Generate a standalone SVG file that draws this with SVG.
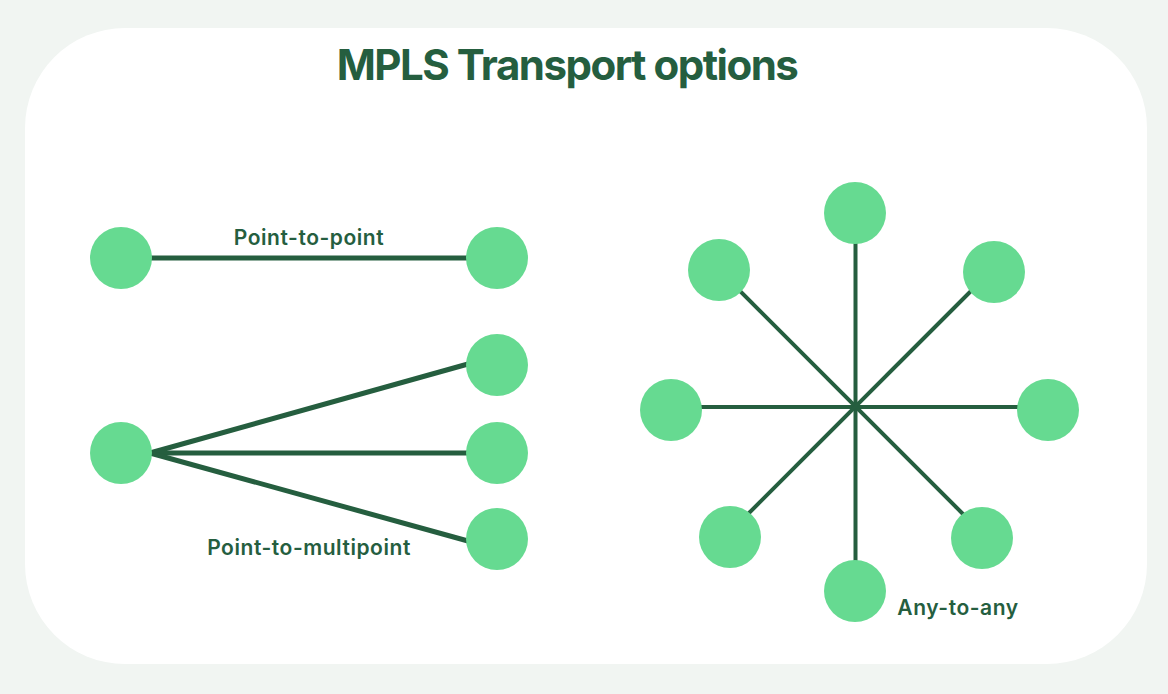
<svg xmlns="http://www.w3.org/2000/svg" width="1168" height="694" viewBox="0 0 1168 694">
<style>
.node{fill:#66DA91}
.ln{stroke:#255E3F;stroke-width:5;fill:none}
.st{stroke:#255E3F;stroke-width:4;fill:none}
.lbl{font-family:Inter,"Noto Sans",sans-serif;font-weight:600;font-size:21px;letter-spacing:0.55px;fill:#255E3F}
.title{font-family:Inter,"Noto Sans",sans-serif;font-weight:700;font-size:42px;letter-spacing:-1.5px;fill:#255E3F}
</style>
<rect x="0" y="0" width="1168" height="694" fill="#F1F5F2"/>
<rect x="25" y="28" width="1122" height="636" rx="100" ry="100" fill="#FFFFFF"/>
<text class="title" x="567" y="80" text-anchor="middle">MPLS Transport options</text>
<g id="connectors">
<line class="ln" x1="121" y1="258" x2="497" y2="258"/>
<line class="ln" x1="150" y1="453" x2="468" y2="364"/>
<line class="ln" x1="150" y1="453" x2="497" y2="453"/>
<line class="ln" x1="150" y1="453" x2="468" y2="541"/>
<line class="st" x1="855.5" y1="214" x2="855.5" y2="591"/>
<line class="st" x1="671" y1="407" x2="1048" y2="407"/>
<line class="st" x1="719" y1="270" x2="982" y2="533"/>
<line class="st" x1="994" y1="268" x2="730" y2="532"/>
</g>
<g id="p2p-a"><circle class="node" cx="121" cy="258" r="31"/></g>
<g id="p2p-b"><circle class="node" cx="497" cy="258" r="31"/></g>
<g id="p2mp-src"><circle class="node" cx="121" cy="453" r="31"/></g>
<g id="p2mp-1"><circle class="node" cx="497" cy="365" r="31"/></g>
<g id="p2mp-2"><circle class="node" cx="497" cy="453" r="31"/></g>
<g id="p2mp-3"><circle class="node" cx="497" cy="539" r="31"/></g>
<g id="a2a-n"><circle class="node" cx="855" cy="213" r="31"/></g>
<g id="a2a-nw"><circle class="node" cx="719" cy="270" r="31"/></g>
<g id="a2a-ne"><circle class="node" cx="994" cy="272" r="31"/></g>
<g id="a2a-w"><circle class="node" cx="671" cy="410" r="31"/></g>
<g id="a2a-e"><circle class="node" cx="1048" cy="410" r="31"/></g>
<g id="a2a-sw"><circle class="node" cx="730" cy="537" r="31"/></g>
<g id="a2a-se"><circle class="node" cx="982" cy="538" r="31"/></g>
<g id="a2a-s"><circle class="node" cx="855" cy="591" r="31"/></g>
<text class="lbl" x="309" y="245" text-anchor="middle">Point-to-point</text>
<text class="lbl" x="309" y="555" text-anchor="middle">Point-to-multipoint</text>
<text class="lbl" x="958" y="615" text-anchor="middle">Any-to-any</text>
</svg>
